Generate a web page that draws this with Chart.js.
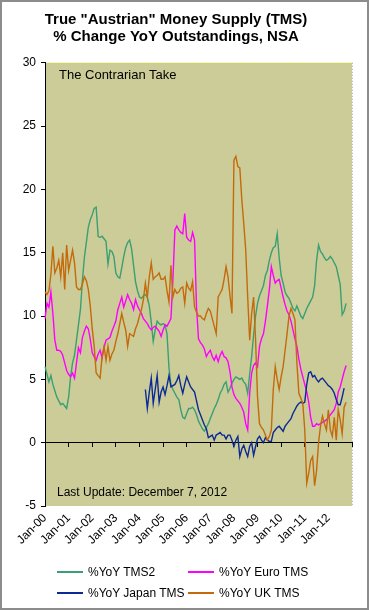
<!DOCTYPE html>
<html>
<head>
<meta charset="utf-8">
<script src="https://cdn.jsdelivr.net/npm/chart.js@4/dist/chart.umd.min.js"></script>
<style>
  html, body { margin: 0; padding: 0; background: #fff; }
  #wrap { position: relative; width: 369px; height: 610px; }
  #chart { position: absolute; left: 0; top: 0; }
  .note { position: absolute; color: #000; white-space: nowrap; font-family: "Liberation Sans", Arial, sans-serif; }
  .leg { position: absolute; font: 12px "Liberation Sans", Arial, sans-serif; line-height: 14px; white-space: nowrap; color: #000; }
  .leg i { display: inline-block; width: 26px; height: 0; border-top: 2px solid; vertical-align: middle; margin-right: 5px; position: relative; top: -1px; }
</style>
</head>
<body>
<div id="wrap">
  <canvas id="chart" width="369" height="610"></canvas>
  <div class="note" id="brand" style="left:59px; top:67px; font-size:13px; line-height:16px;"></div>
  <div class="note" id="update" style="left:57px; top:485px; font-size:12px; line-height:15px;"></div>
  <div id="legend"></div>
</div>
<script>
// titles / texts
const titleLines = ['True "Austrian" Money Supply (TMS)', '% Change YoY Outstandings, NSA'];
const brandText = 'The Contrarian Take';
const updateText = 'Last Update: December 7, 2012';

// x axis: monthly categories Jan-00 .. Jan-13, labelled every January
const tickLabels = ['Jan-00', 'Jan-01', 'Jan-02', 'Jan-03', 'Jan-04', 'Jan-05', 'Jan-06',
  'Jan-07', 'Jan-08', 'Jan-09', 'Jan-10', 'Jan-11', 'Jan-12'];
const monthNames = ['Jan', 'Feb', 'Mar', 'Apr', 'May', 'Jun', 'Jul', 'Aug', 'Sep', 'Oct', 'Nov', 'Dec'];
const months = [];
for (let y = 0; y <= 13; y++) {
  for (let m = 0; m < 12; m++) {
    if (y === 13 && m > 0) break;
    months.push(monthNames[m] + '-' + String(y).padStart(2, '0'));
  }
}

const seriesNames = ['%YoY TMS2', '%YoY Euro TMS', '%YoY Japan TMS', '%YoY UK TMS'];
const seriesColors = ['#3a9f72', '#ff00ff', '#0b2a94', '#c46a0a'];

// %YoY values, one per month starting Jan-00
const tms2 = [
  6.0, 5.4, 4.8, 5.3, 4.6, 4.1, 3.6, 3.3, 3.0, 3.1, 2.9, 2.7,
  3.6, 5.2, 6.3, 6.9, 8.1, 9.3, 10.5, 12.8, 14.6, 15.8, 17.0, 17.6,
  18.0, 18.5, 18.6, 16.3, 16.2, 16.3, 16.1, 15.9, 14.1, 15.2, 15.1, 14.7,
  13.4, 13.1, 13.0, 13.8, 14.7, 15.4, 15.8, 16.0, 15.3, 14.0, 12.7, 12.0,
  11.5, 11.4, 11.6, 11.7, 11.5, 10.8, 9.5, 8.0, 8.9, 9.6, 9.4, 9.3,
  9.4, 9.3, 8.6, 5.9, 4.6, 4.2, 3.9, 3.6, 3.4, 2.6, 2.0, 1.9,
  2.3, 2.7, 2.7, 2.8, 2.6, 2.2, 1.7, 1.4, 1.1, 0.9, 1.2, 1.5,
  1.9, 2.3, 2.7, 3.0, 3.4, 3.9, 4.2, 4.6, 4.8, 4.0, 4.3, 4.7,
  5.0, 5.2, 5.1, 5.0, 5.1, 4.8, 4.6, 3.9, 5.4, 6.8, 8.5, 10.0,
  11.0, 11.6, 12.0, 12.4, 13.2, 13.6, 14.4, 15.0, 15.4, 15.5, 16.5, 14.6,
  13.2, 12.6, 11.9, 11.6, 11.4, 11.0, 10.6, 10.4, 10.8, 10.4, 10.0, 9.8,
  10.2, 10.6, 10.9, 11.2, 11.5, 12.4, 14.4, 15.6, 15.1, 14.9, 14.6, 14.4,
  14.5, 14.7, 14.5, 14.2, 13.9, 13.2, 12.5, 10.1, 10.4, 11.0
];
const euroTms = [
  9.8, 11.0, 10.7, 11.9, 10.2, 8.1, 7.3, 7.3, 7.2, 6.9, 6.3, 5.7,
  5.4, 5.2, 5.5, 5.1, 6.3, 7.5, 7.1, 8.3, 8.8, 9.2, 9.0, 8.2,
  7.1, 6.8, 6.5, 7.0, 7.3, 6.7, 7.5, 8.1, 8.2, 8.3, 8.8, 9.2,
  9.6, 10.5, 11.0, 11.5, 10.7, 11.2, 11.7, 11.3, 11.0, 10.5, 11.3, 10.8,
  10.5, 10.2, 9.8, 9.6, 9.4, 9.1, 8.9, 9.1, 9.2, 9.0, 8.8, 8.4,
  8.9, 9.3, 9.2, 9.5, 9.8, 12.9, 16.8, 17.1, 16.8, 16.6, 16.5, 18.1,
  16.2, 16.0, 15.9, 16.6, 16.0, 10.7, 8.2, 7.9, 7.7, 7.4, 6.8, 7.1,
  7.3, 6.8, 6.5, 6.9, 6.4, 6.9, 7.2, 6.8, 6.7, 6.4, 5.6, 4.4,
  3.8, 3.5, 3.3, 3.1, 2.8, 2.4, 1.5, 1.0, 3.9, 5.5, 6.1, 6.3,
  6.0, 7.6, 8.2, 8.6, 9.6, 10.8, 12.1, 13.9, 13.2, 12.6, 12.8, 12.9,
  12.2, 11.5, 10.9, 10.4, 10.1, 9.6, 8.9, 8.2, 7.6, 6.6, 5.8, 5.2,
  4.6, 4.0, 3.2, 2.0, 1.3, 1.3, 1.5, 1.4, 1.5, 1.6, 1.7, 1.8,
  2.0, 2.2, 2.4, 2.6, 3.1, 4.0, 4.4, 5.0, 5.6, 6.1
];
// Japan series starts mid-2004
const japanTms = Array(51).fill(null).concat([
  4.2, 2.7, 4.0, 5.1, 3.1, 4.2, 5.3, 3.2, 4.0,
  4.4, 3.8, 4.5, 5.3, 4.4, 4.5, 4.6, 4.9, 5.3, 4.5, 3.9, 4.6,
  5.2, 4.8, 4.4, 4.2, 4.0, 3.3, 2.6, 2.2, 1.8, 1.4, 1.1, 0.4,
  0.5, 0.6, 0.2, 0.6, 0.7, 0.8, 0.6, 0.6, 0.3, 0.6, 0.6, 0.2,
  -0.3, 0.2, 0.5, -1.1, -0.5, -0.2, -0.7, -1.1, -0.3, 0.0, -1.0, -0.3,
  0.3, 0.5, 0.2, 0.0, 0.4, 0.2, 0.1, 0.1, 0.8, 1.0, 1.2, 1.3,
  1.1, 0.9, 1.3, 1.5, 1.7, 1.9, 2.3, 2.6, 2.9, 3.1, 3.2, 3.1,
  3.2, 4.6, 5.5, 5.6, 5.2, 5.3, 5.0, 4.8, 5.0, 5.1, 4.9, 4.7,
  4.5, 4.4, 4.2, 3.9, 3.4, 3.0, 3.0, 3.6, 4.3
]);
const ukTms = [
  11.9, 11.7, 12.0, 13.3, 15.5, 13.4, 13.8, 14.4, 13.1, 15.0, 12.1, 15.6,
  13.6, 14.4, 15.2, 14.2, 12.3, 12.1, 12.1, 12.5, 13.1, 12.8, 12.1, 10.8,
  9.0, 7.6, 5.5, 5.3, 5.1, 6.8, 7.6, 6.5, 7.6, 6.5, 7.0, 7.3,
  8.0, 8.6, 9.4, 10.2, 9.5, 8.9, 7.6, 8.6, 8.5, 8.4, 9.0, 9.4,
  10.0, 10.5, 11.3, 12.6, 11.5, 13.1, 14.2, 12.9, 13.1, 13.2, 13.4, 12.9,
  12.9, 13.1, 12.0, 11.1, 14.0, 11.5, 12.1, 11.8, 11.9, 12.2, 12.3, 11.0,
  12.6, 12.2, 12.0, 12.7, 10.7, 10.3, 10.0, 10.0, 9.8, 9.7, 10.2, 10.6,
  10.4, 9.8, 9.2, 8.6, 11.5, 11.8, 12.1, 12.9, 13.9, 13.1, 11.6, 10.2,
  22.3, 22.6, 21.8, 21.7, 19.2, 17.3, 15.2, 11.5, 8.1, 10.2, 11.5, 8.1,
  3.6, 1.5, 1.2, 1.0, 0.6, 0.2, 0.5, 1.0, 4.2, 6.0, 5.0, 4.2,
  5.2, 6.0, 7.3, 8.6, 10.0, 10.6, 10.2, 9.7, 6.3, 3.9, 3.5, 3.1,
  1.0, -3.2, -2.4, -1.4, -1.1, -3.4, -2.2, 0.0, 1.3, 2.1, 1.5, 1.0,
  2.6, 1.0, 0.5, 2.0, 0.2, 2.6, 1.8, 0.7, 2.8, 3.2
];

const yTicks = { min: -5, max: 30, step: 5 };

const fontFamily = '"Liberation Sans", Arial, sans-serif';

document.getElementById('brand').textContent = brandText;
document.getElementById('update').textContent = updateText;

// plot background, outer frame and plot border
const frame = {
  id: 'frame',
  beforeDraw(chart) {
    const { ctx, chartArea: { left, right, top, bottom } } = chart;
    ctx.save();
    ctx.fillStyle = '#ffffff';
    ctx.fillRect(0, 0, chart.width, chart.height);
    ctx.fillStyle = '#cccc99';
    ctx.fillRect(left, top, right - left, bottom - top);
    ctx.lineWidth = 1;
    ctx.setLineDash([1, 2]);
    ctx.strokeStyle = '#e0e000';
    ctx.beginPath();
    ctx.moveTo(left, Math.round(top) + 0.5);
    ctx.lineTo(right, Math.round(top) + 0.5);
    ctx.stroke();
    ctx.strokeStyle = '#a8a8a8';
    ctx.beginPath();
    ctx.moveTo(Math.round(right) + 0.5, top);
    ctx.lineTo(Math.round(right) + 0.5, bottom);
    ctx.stroke();
    ctx.restore();
  },
  afterDraw(chart) {
    const { ctx } = chart;
    ctx.save();
    ctx.lineWidth = 2;
    ctx.strokeStyle = '#8c8c8c';
    ctx.strokeRect(1, 1, chart.width - 2, chart.height - 2);
    ctx.restore();
  }
};

const seriesData = [tms2, euroTms, japanTms, ukTms];

const config = {
  type: 'line',
  data: {
    labels: months,
    datasets: seriesData.map((d, i) => ({
      label: seriesNames[i],
      data: d,
      borderColor: seriesColors[i],
      backgroundColor: seriesColors[i],
      borderWidth: 1.4,
      pointRadius: 0,
      tension: 0,
      spanGaps: false,
      order: 4 - i
    }))
  },
  options: {
    responsive: false,
    animation: false,
    layout: { padding: { left: 0, right: 17, top: 0, bottom: 0 } },
    plugins: {
      legend: { display: false },
      tooltip: { enabled: false },
      title: {
        display: true,
        text: titleLines,
        color: '#000',
        font: { family: fontFamily, size: 15, weight: 'bold', lineHeight: 17.5 / 15 },
        padding: { top: 10.75, bottom: 17 }
      }
    },
    scales: {
      x: {
        type: 'category',
        position: 'bottom',
        grid: { display: false, drawTicks: false },
        border: { display: false },
        ticks: {
          autoSkip: false,
          minRotation: 45,
          maxRotation: 45,
          padding: 5,
          color: '#000',
          font: { family: fontFamily, size: 12 },
          callback: (v, i) => (i % 12 === 0 && tickLabels[i / 12]) ? tickLabels[i / 12] : ''
        },
        afterFit: (s) => { s.height = 104; }
      },
      x0: {
        type: 'category',
        position: { y: 0 },
        grid: {
          drawOnChartArea: false,
          drawTicks: true,
          tickLength: 4,
          color: (c) => (c.index % 12 === 0 ? '#000' : 'rgba(0,0,0,0)')
        },
        border: { display: true, color: '#000', width: 1 },
        ticks: { display: false, autoSkip: false }
      },
      y: {
        min: yTicks.min,
        max: yTicks.max,
        ticks: {
          stepSize: yTicks.step,
          padding: 5,
          color: '#000',
          font: { family: fontFamily, size: 12 }
        },
        grid: { drawOnChartArea: false, drawTicks: true, tickLength: 4, color: '#000' },
        border: { display: true, color: '#000', width: 1 },
        afterFit: (s) => { s.width = 45; }
      }
    }
  },
  plugins: [frame]
};

const myChart = new Chart(document.getElementById('chart'), config);

// legend, two columns
const legendPos = [[57, 565], [188, 565], [57, 586], [188, 586]];
const legend = document.getElementById('legend');
seriesNames.forEach((name, i) => {
  const el = document.createElement('div');
  el.className = 'leg';
  el.style.left = legendPos[i][0] + 'px';
  el.style.top = legendPos[i][1] + 'px';
  el.innerHTML = '<i style="border-color:' + seriesColors[i] + '"></i>';
  el.appendChild(document.createTextNode(name));
  legend.appendChild(el);
});
</script>
</body>
</html>
